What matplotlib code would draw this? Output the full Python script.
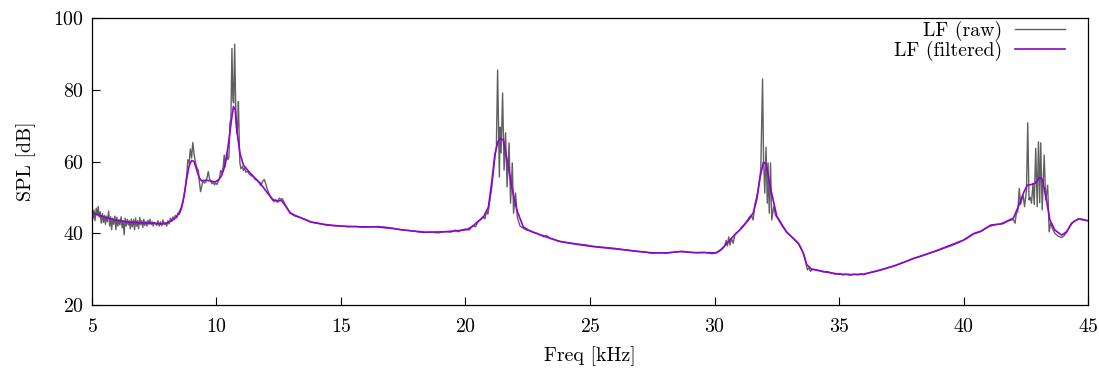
import matplotlib
matplotlib.use('Agg')
import matplotlib.pyplot as plt

# filtered LF curve (kHz, dB)
freq_filt = [5.0, 5.3, 5.6, 6.0, 6.5, 7.0, 7.5, 7.8, 8.0, 8.2, 8.4, 8.5, 8.6, 8.7, 8.8, 8.9,
             9.0, 9.1, 9.2, 9.3, 9.4, 9.6, 9.8, 9.95, 10.1, 10.2, 10.3, 10.4, 10.5, 10.6, 10.68,
             10.75, 10.82, 10.94, 11.08, 11.35, 11.6, 11.75, 11.9, 12.05, 12.28, 12.5, 12.6,
             12.75, 12.95, 13.15, 13.4, 13.76, 14.4, 15.0, 15.8, 16.4, 17.1, 17.5, 18.4, 19.1,
             19.5, 19.8, 20.05, 20.3, 20.45, 20.72, 20.92, 21.05, 21.18, 21.3, 21.4, 21.52,
             21.67, 21.86, 22.06, 22.32, 22.6, 23.0, 23.4, 23.8, 24.4, 25.1, 25.8, 26.5, 27.4,
             28.0, 28.6, 29.2, 29.8, 30.05, 30.3, 30.5, 30.8, 31.1, 31.4, 31.56, 31.7, 31.83,
             31.96, 32.07, 32.27, 32.5, 32.7, 32.9, 33.1, 33.37, 33.57, 33.7, 33.9, 34.4, 35.0,
             35.5, 36.0, 36.65, 37.3, 38.0, 38.7, 39.3, 40.0, 40.4, 40.7, 41.1, 41.5, 42.0,
             42.2, 42.4, 42.56, 42.73, 42.87, 43.07, 43.17, 43.33, 43.47, 43.67, 43.94, 44.14,
             44.34, 44.61, 45.0]
spl_filt = [45.8, 45.0, 44.3, 43.6, 43.1, 42.9, 42.8, 42.6, 42.8, 43.5, 44.6, 45.8, 47.4, 50.5,
            55.0, 58.8, 60.3, 60.0, 57.8, 55.6, 54.6, 54.8, 54.5, 54.3, 55.0, 56.0, 58.0, 61.2,
            66.0, 71.5, 75.3, 74.5, 68.5, 62.4, 59.0, 56.8, 55.0, 54.0, 52.6, 51.2, 49.3, 49.0,
            49.2, 47.9, 45.8, 45.0, 44.3, 43.2, 42.4, 42.0, 41.8, 41.8, 41.3, 40.9, 40.3, 40.4,
            40.6, 40.8, 41.0, 42.0, 43.0, 44.5, 47.3, 54.0, 62.0, 65.5, 66.5, 66.0, 60.4, 52.9,
            46.5, 41.8, 40.6, 39.6, 38.6, 37.7, 37.0, 36.3, 35.8, 35.3, 34.6, 34.5, 34.9, 34.6,
            34.6, 34.5, 35.6, 37.2, 39.5, 41.5, 44.0, 45.8, 49.5, 55.5, 59.8, 59.3, 52.0, 44.8,
            42.5, 40.3, 39.0, 37.2, 34.4, 31.3, 30.0, 29.3, 28.6, 28.5, 28.6, 29.7, 31.1, 33.0,
            34.6, 36.2, 38.1, 39.9, 40.6, 42.3, 42.6, 44.2, 47.4, 51.1, 53.4, 53.6, 53.9, 55.6,
            55.0, 49.3, 43.7, 40.9, 39.5, 40.4, 42.8, 44.0, 43.5]

# raw LF measurement (kHz, dB)
freq_raw = [5.00, 5.04, 5.08, 5.12, 5.17, 5.21, 5.25, 5.29, 5.33, 5.37, 5.42, 5.46, 5.50, 5.54,
            5.58, 5.62, 5.67, 5.71, 5.75, 5.79, 5.83, 5.87, 5.92, 5.96, 6.00, 6.04, 6.08, 6.12,
            6.17, 6.21, 6.25, 6.29, 6.33, 6.37, 6.42, 6.46, 6.50, 6.54, 6.58, 6.62, 6.67, 6.71,
            6.75, 6.79, 6.83, 6.87, 6.92, 6.96, 7.00, 7.04, 7.08, 7.12, 7.17, 7.21, 7.25, 7.29,
            7.33, 7.38, 7.42, 7.46, 7.50, 7.55, 7.60, 7.65, 7.70, 7.75, 7.80, 7.85, 7.90, 7.95,
            8.00, 8.05, 8.10, 8.15, 8.20, 8.25, 8.30, 8.35, 8.40, 8.45, 8.50, 8.55, 8.60, 8.65,
            8.70, 8.75, 8.80, 8.85, 8.90, 8.95, 9.00, 9.05, 9.10, 9.15, 9.20, 9.27, 9.32, 9.36,
            9.42, 9.47, 9.52, 9.57, 9.62, 9.67, 9.72, 9.77, 9.82, 9.87, 9.92, 9.97, 10.02, 10.07,
            10.12, 10.17, 10.22, 10.27, 10.31, 10.35, 10.41, 10.46, 10.50, 10.54, 10.58, 10.62,
            10.66, 10.69, 10.73, 10.77, 10.81, 10.85, 10.88, 10.92, 10.94, 10.98, 11.04, 11.08,
            11.12, 11.18, 11.25, 11.32, 11.40, 11.48, 11.55, 11.62, 11.70, 11.78, 11.85, 11.92,
            11.97, 12.03, 12.10, 12.18, 12.25, 12.32, 12.38, 12.45, 12.52, 12.58, 12.65, 12.72,
            12.80, 12.88, 12.95, 13.05, 13.15, 13.3, 13.45, 13.6, 13.8, 14.0, 14.2, 14.4, 14.7,
            15.0, 15.3, 15.6, 15.9, 16.2, 16.5, 16.8, 17.1, 17.4, 17.7, 18.0, 18.3, 18.6, 18.9,
            19.2, 19.4, 19.6, 19.7, 19.85, 20.0, 20.15, 20.3, 20.4, 20.5, 20.6, 20.7, 20.78,
            20.85, 20.9, 20.97, 21.05, 21.12, 21.18, 21.24, 21.29, 21.36, 21.39, 21.43, 21.49,
            21.55, 21.61, 21.67, 21.75, 21.81, 21.88, 21.93, 22.01, 22.08, 22.19, 22.3, 22.45,
            22.6, 22.75, 22.9, 23.05, 23.15, 23.25, 23.4, 23.55, 23.7, 23.9, 24.2, 24.5, 24.8,
            25.1, 25.4, 25.7, 26.0, 26.3, 26.6, 26.9, 27.2, 27.5, 27.8, 28.1, 28.4, 28.7, 29.0,
            29.3, 29.6, 29.9, 30.05, 30.2, 30.3, 30.4, 30.47, 30.52, 30.57, 30.62, 30.68, 30.75,
            30.82, 30.9, 31.0, 31.1, 31.2, 31.3, 31.4, 31.48, 31.55, 31.62, 31.72, 31.8, 31.86,
            31.93, 31.97, 32.02, 32.07, 32.12, 32.15, 32.2, 32.25, 32.3, 32.38, 32.45, 32.55,
            32.65, 32.8, 32.95, 33.1, 33.25, 33.4, 33.5, 33.6, 33.68, 33.73, 33.8, 33.85, 33.95,
            34.1, 34.25, 34.4, 34.55, 34.7, 34.85, 35.0, 35.15, 35.3, 35.45, 35.6, 35.75, 35.9,
            36.0, 36.1, 36.25, 36.4, 36.55, 36.7, 36.85, 37.0, 37.2, 37.4, 37.6, 37.8, 38.0,
            38.3, 38.6, 38.9, 39.2, 39.5, 39.8, 40.1, 40.4, 40.7, 41.0, 41.3, 41.6, 41.85, 42.0,
            42.07, 42.12, 42.18, 42.24, 42.29, 42.34, 42.4, 42.45, 42.53, 42.58, 42.63, 42.68,
            42.73, 42.79, 42.84, 42.9, 42.96, 43.01, 43.06, 43.1, 43.16, 43.24, 43.3, 43.38,
            43.44, 43.5, 43.58, 43.67, 43.8, 43.94, 44.05, 44.15, 44.3, 44.45, 44.6, 44.75,
            44.9, 45.0]
spl_raw = [46.0, 44.0, 46.5, 43.5, 47.0, 45.0, 47.5, 44.5, 46.0, 42.8, 45.5, 43.0, 45.0, 42.5,
           44.8, 43.2, 46.2, 42.0, 44.6, 41.0, 44.2, 42.5, 44.8, 41.0, 44.5, 42.0, 43.8, 42.3,
           44.6, 41.5, 43.6, 39.6, 44.2, 42.0, 43.9, 42.3, 43.5, 41.2, 44.0, 41.8, 43.8, 41.0,
           44.2, 42.0, 43.5, 41.3, 44.4, 42.4, 43.5, 41.6, 43.9, 42.2, 43.3, 42.0, 43.6, 42.5,
           43.9, 42.4, 43.2, 42.0, 43.1, 42.6, 42.2, 43.5, 42.0, 43.2, 42.1, 43.7, 42.4, 43.0,
           42.0, 43.5, 42.6, 44.2, 43.4, 44.6, 43.8, 45.0, 44.3, 45.6, 45.2, 46.0, 47.0, 48.5,
           50.5, 53.0, 56.0, 60.5, 59.5, 63.5, 61.0, 65.3, 62.0, 60.0, 58.5, 57.5, 54.0, 51.6,
           53.5, 54.8, 54.0, 54.3, 55.5, 57.2, 55.2, 54.6, 53.8, 54.3, 53.5, 54.0, 53.6, 54.5,
           55.3, 57.5, 56.8, 58.6, 61.8, 58.5, 62.4, 60.5, 61.3, 70.7, 72.0, 91.5,
           77.0, 76.3, 92.7, 76.0, 67.9, 70.0, 76.7, 64.0, 59.6, 58.0, 58.6, 57.5,
           58.2, 57.0, 57.3, 56.5, 56.0, 55.8, 55.0, 54.8, 54.2, 53.3, 54.5, 55.0,
           54.0, 52.5, 51.2, 50.0, 49.2, 48.8, 49.3, 48.6, 49.8, 49.5, 49.6, 48.5,
           47.4, 46.5, 45.6, 45.2, 44.8, 44.5, 44.1, 43.8, 43.1, 42.8, 42.6, 42.3, 42.1,
           42.0, 41.8, 41.9, 41.7, 41.8, 41.9, 41.7, 41.4, 41.0, 40.8, 40.5, 40.2, 40.3, 40.1,
           40.5, 40.3, 40.9, 40.4, 40.9, 41.2, 40.9, 42.2, 41.8, 43.2, 43.8, 44.6, 44.0,
           46.2, 45.3, 48.8, 52.5, 57.0, 61.0, 64.0, 85.5, 55.7, 69.6, 62.4, 79.1,
           57.6, 68.0, 52.9, 65.2, 48.4, 59.6, 45.6, 51.2, 44.5, 42.0, 41.5, 40.9,
           40.7, 40.2, 39.9, 39.4, 39.0, 39.4, 38.6, 38.3, 37.9, 37.6, 37.3, 37.0, 36.8,
           36.4, 36.2, 36.0, 35.8, 35.5, 35.2, 34.9, 34.8, 34.4, 34.6, 34.5, 34.7, 35.0, 34.7,
           34.6, 34.7, 34.3, 34.5, 35.0, 35.8, 36.4, 38.0, 36.5, 39.0, 36.7, 38.5, 37.2,
           39.8, 40.2, 40.8, 41.8, 42.5, 43.4, 44.5, 45.0, 43.7, 48.0, 51.0, 54.5, 58.0,
           83.0, 60.4, 51.2, 64.0, 48.4, 59.6, 45.6, 59.6, 43.7, 47.5, 45.0, 44.0,
           42.8, 41.2, 40.0, 39.0, 38.0, 36.8, 35.5, 33.8, 31.5, 29.8, 30.4, 29.4, 30.0,
           29.8, 29.5, 29.2, 29.3, 28.9, 28.6, 28.8, 28.4, 28.6, 28.3, 28.6, 28.4, 28.7,
           28.4, 28.8, 29.1, 29.3, 29.6, 29.9, 30.2, 30.5, 30.9, 31.4, 31.9, 32.4, 33.0,
           33.6, 34.4, 35.0, 35.8, 36.5, 37.4, 38.4, 39.8, 40.5, 41.8, 42.4, 42.7, 43.6, 43.8,
           42.8, 45.5, 46.0, 52.5, 48.0, 49.3, 50.5, 47.4, 52.0, 70.8, 49.3, 50.0,
           48.4, 53.9, 48.0, 63.7, 47.4, 65.5, 48.5, 65.2, 46.5, 61.8, 49.3, 53.4,
           40.4, 42.8, 41.2, 40.0, 39.2, 38.8, 39.4, 40.4, 42.2, 43.4, 43.9, 44.0,
           43.6, 43.5]

plt.rcParams['font.family'] = 'cmr10'
plt.rcParams['mathtext.fontset'] = 'cm'
plt.rcParams['axes.formatter.use_mathtext'] = True
plt.rcParams['font.size'] = 14.3

fig = plt.figure(figsize=(10.99, 3.72), dpi=100)
ax = fig.add_axes([0.0837, 0.180, 0.9063, 0.7716])

ax.plot(freq_raw, spl_raw, color='#606060', lw=1.0, label='LF (raw)')
ax.plot(freq_filt, spl_filt, color='#9400d3', lw=1.2, label='LF (filtered)')

ax.set_xlim(5, 45)
ax.set_ylim(20, 100)
ax.set_xticks(range(5, 46, 5))
ax.set_yticks(range(20, 101, 20))
ax.tick_params(direction='in', length=6, width=0.8, top=False, right=False)
ax.tick_params(axis='x', pad=9)
ax.tick_params(axis='y', pad=6)
for s in ax.spines.values():
    s.set_linewidth(0.9)

ax.set_xlabel('Freq [kHz]', labelpad=8)
ax.set_ylabel('SPL [dB]', labelpad=12)

ax.legend(loc='upper right', bbox_to_anchor=(0.977, 0.99), frameon=False,
          markerfirst=False, handlelength=2.5, handletextpad=0.65,
          labelspacing=0.0, borderpad=0, borderaxespad=0, fontsize=14.3)

fig.savefig('out.png', dpi=100)
